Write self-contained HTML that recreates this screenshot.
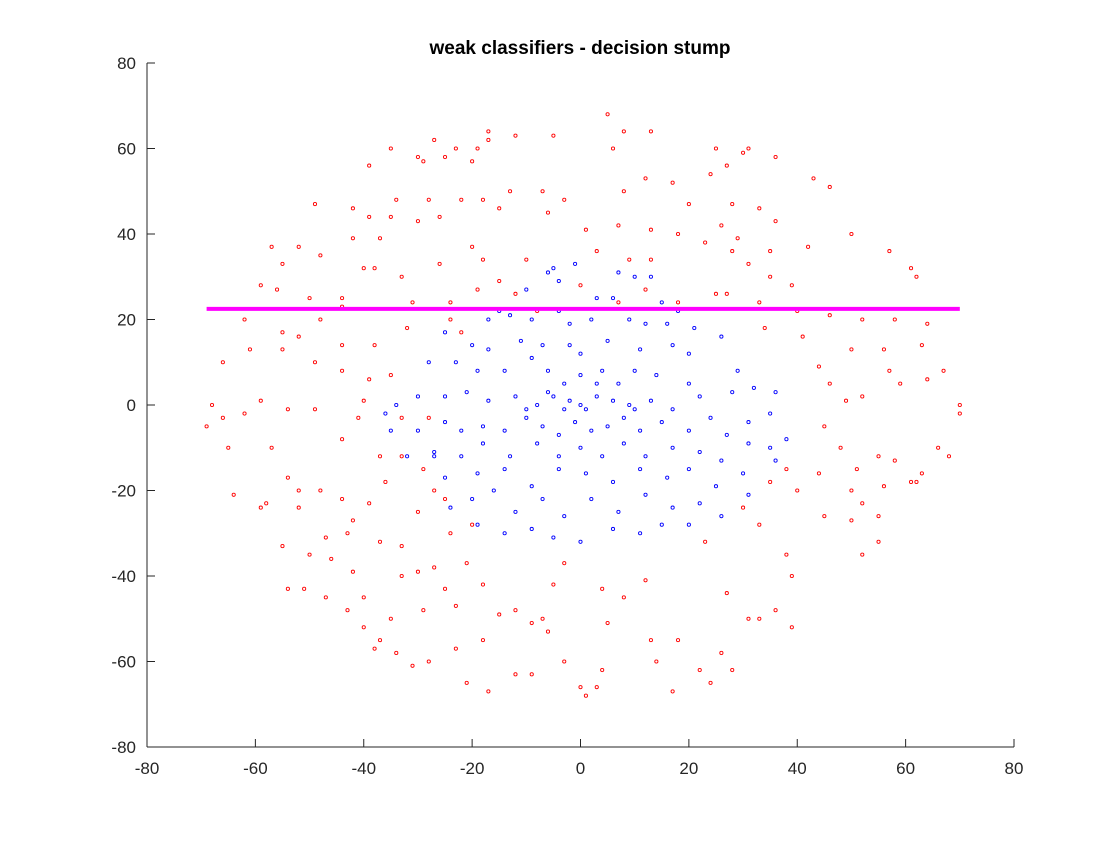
<!DOCTYPE html>
<html><head><meta charset="utf-8"><style>
body{margin:0;background:#fff;}
svg text{font-family:"Liberation Sans",sans-serif;}
</style></head><body>
<svg id="chart" width="1120" height="840" xmlns="http://www.w3.org/2000/svg">
<rect width="1120" height="840" fill="#fff"/>
<text x="580" y="54" text-anchor="middle" font-size="19" font-weight="bold" fill="#000">weak classifiers - decision stump</text>
<g id="marks"></g>
<g id="axes"></g>
</svg>
<script>
const xTicks=[-80,-60,-40,-20,0,20,40,60,80];
const yTicks=[-80,-60,-40,-20,0,20,40,60,80];
const redPoints=[[5,68],[8,64],[-17,64],[-12,63],[-5,63],[13,64],[-17,62],[6,60],[25,60],[30,59],[31,60],[-35,60],[-27,62],[-23,60],[-19,60],[-25,58],[-29,57],[36,58],[-39,56],[27,56],[12,53],[24,54],[43,53],[46,51],[-20,57],[-30,58],
[-34,48],[-28,48],[-22,48],[-18,48],[-13,50],[-7,50],[-3,48],[8,50],[17,52],[20,47],[28,47],[33,46],[36,43],[50,40],[-49,47],[-42,46],[-39,44],[-35,44],[-30,43],[-26,44],[-15,46],[-6,45],[1,41],[7,42],[13,41],[18,40],[26,42],[29,39],[35,36],[42,37],[-57,37],[-52,37],[-48,35],[-42,39],[-37,39],[-38,32],[-40,32],[-33,30],[-26,33],[-20,37],[-18,34],[-10,34],[3,36],[9,34],[13,34],[23,38],[28,36],[31,33],[35,30],[39,28],[57,36],[61,32],[62,30],[-55,33],[-59,28],[-56,27],[-50,25],[-44,25],[-44,23],[-31,24],[-24,24],[-19,27],[-15,29],[-12,26],[-8,22],[0,28],[7,24],[12,27],[18,24],[25,26],[27,26],[33,24],[40,22],[46,21],[52,20],[58,20],[64,19],[-62,20],[-55,17],[-52,16],[-48,20],[-44,14],[-38,14],[-32,18],[-24,20],[-22,17],[34,18],[41,16],[50,13],[56,13],[63,14],[-66,10],[-61,13],[-55,13],[-49,10],[-44,8],[-39,6],[-40,1],[-35,7],[-33,-3],[-28,-3],[44,9],[46,5],[49,1],[52,2],[57,8],[59,5],[64,6],[67,8],[-68,0],[-66,-3],[-62,-2],[-59,1],[-54,-1],[-49,-1],[-44,-8],[-41,-3],[-37,-12],[-33,-12],[-29,-15],[-27,-20],[45,-5],[48,-10],[51,-15],[55,-12],[58,-13],[62,-18],[66,-10],[68,-12],[70,-2],[70,0],[-69,-5],[-65,-10],[-57,-10],[-54,-17],[-52,-20],[-48,-20],[-44,-22],[-42,-27],[-39,-23],[-36,-18],[-30,-25],[-25,-22],[-24,-30],[-20,-28],[-21,-37],[35,-18],[38,-15],[40,-20],[44,-16],[50,-20],[52,-23],[55,-26],[56,-19],[61,-18],[63,-16],[-64,-21],[-59,-24],[-52,-24],[-47,-31],[-43,-30],[-37,-32],[-33,-33],[-30,-39],[-27,-38],[-29,-48],[30,-24],[33,-28],[38,-35],[39,-40],[45,-26],[50,-27],[52,-35],[55,-32],[-58,-23],[-55,-33],[-54,-43],[-50,-35],[-46,-36],[-42,-39],[-40,-45],[-35,-50],[-33,-40],[-25,-43],[-23,-47],[-18,-42],[-15,-49],[-12,-48],[-7,-50],[-3,-37],[-5,-42],[4,-43],[8,-45],[12,-41],[23,-32],[27,-44],[33,-50],[36,-48],[39,-52],[-51,-43],[-47,-45],[-43,-48],[-40,-52],[-37,-55],[-34,-58],[-31,-61],[-28,-60],[-23,-57],[-18,-55],[-9,-51],[-6,-53],[5,-51],[13,-55],[18,-55],[22,-62],[26,-58],[31,-50],[-38,-57],[-21,-65],[-17,-67],[-12,-63],[-9,-63],[-3,-60],[0,-66],[1,-68],[3,-66],[4,-62],[14,-60],[17,-67],[24,-65],[28,-62]];
const bluePoints=[[-1,33],[-5,32],[-6,31],[7,31],[10,30],[13,30],[-10,27],[-4,29],[3,25],[6,25],[15,24],[18,22],[-15,22],[-17,20],[-13,21],[-9,20],[-4,22],[-2,19],[2,20],[9,20],[12,19],[16,19],[21,18],[26,16],[-25,17],[-20,14],[-17,13],[-11,15],[-7,14],[-2,14],[0,12],[5,15],[11,13],[17,14],[20,12],[-28,10],[-23,10],[-19,8],[-14,8],[-9,11],[-6,8],[-3,5],[0,7],[4,8],[7,5],[10,8],[14,7],[20,5],[29,8],[-30,2],[-25,2],[-21,3],[-17,1],[-12,2],[-8,0],[-5,2],[-2,1],[0,0],[1,-1],[3,2],[6,1],[9,0],[13,1],[17,-1],[22,2],[28,3],[32,4],[36,3],[-36,-2],[-34,0],[-30,-6],[-25,-4],[-22,-6],[-18,-5],[-14,-6],[-10,-3],[-7,-5],[-4,-7],[-1,-4],[2,-6],[5,-5],[8,-3],[11,-6],[15,-4],[20,-6],[24,-3],[27,-7],[31,-4],[35,-2],[-27,-11],[-22,-12],[-18,-9],[-13,-12],[-8,-9],[-4,-12],[0,-10],[4,-12],[8,-9],[12,-12],[17,-10],[22,-11],[26,-13],[31,-9],[38,-8],[-25,-17],[-19,-16],[-14,-15],[-9,-19],[-4,-15],[1,-16],[6,-18],[11,-15],[16,-17],[20,-15],[25,-19],[30,-16],[36,-13],[-24,-24],[-20,-22],[-16,-20],[-12,-25],[-7,-22],[-3,-26],[2,-22],[7,-25],[12,-21],[17,-24],[22,-23],[26,-26],[31,-21],[-19,-28],[-14,-30],[-9,-29],[-5,-31],[0,-32],[6,-29],[11,-30],[15,-28],[20,-28],[-10,-1],[-6,3],[-3,-1],[3,5],[10,-1],[-32,-12],[-35,-6],[35,-10],[-27,-12]];
const stumpY=22.5;
const stumpX=[-69,70];

const X0=147,X1=1014,Y0=747,Y1=63;
const xs=v=>X0+(v+80)/160*(X1-X0);
const ys=v=>Y0-(v+80)/160*(Y0-Y1);
const NS="http://www.w3.org/2000/svg";
const marks=document.getElementById('marks');
const axes=document.getElementById('axes');
function mk(tag,attrs,parent){const e=document.createElementNS(NS,tag);for(const k in attrs)e.setAttribute(k,attrs[k]);parent.appendChild(e);return e;}

function drawPts(pts,color,name){
  pts.forEach(p=>{
    const e=mk('circle',{cx:xs(p[0]),cy:ys(p[1]),r:1.6,stroke:color,'stroke-width':0.9,fill:'none'},marks);
    
    
  });
}
drawPts(redPoints,'#ff0000','red-point');
drawPts(bluePoints,'#0000ff','blue-point');

const ln=mk('line',{x1:xs(stumpX[0]),x2:xs(stumpX[1]),y1:ys(stumpY),y2:ys(stumpY),stroke:'#ff00ff','stroke-width':4},marks);



const xa=mk('line',{x1:X0,x2:X1,y1:Y0,y2:Y0,stroke:'#262626','stroke-width':1},axes);


const ya=mk('line',{x1:X0,x2:X0,y1:Y0,y2:Y1,stroke:'#262626','stroke-width':1},axes);


xTicks.forEach(t=>{
  const x=xs(t);
  mk('line',{x1:x,x2:x,y1:Y0,y2:Y0-8,stroke:'#262626'},axes);
  const tx=mk('text',{x:x,y:Y0+27,'text-anchor':'middle','font-size':17,fill:'#262626'},axes);
  tx.textContent=t;
  
  
});
yTicks.forEach(t=>{
  const y=ys(t);
  mk('line',{x1:X0,x2:X0+8,y1:y,y2:y,stroke:'#262626'},axes);
  const tx=mk('text',{x:X0-11,y:y+6,'text-anchor':'end','font-size':17,fill:'#262626'},axes);
  tx.textContent=t;
  
  
});
</script>
</body></html>
